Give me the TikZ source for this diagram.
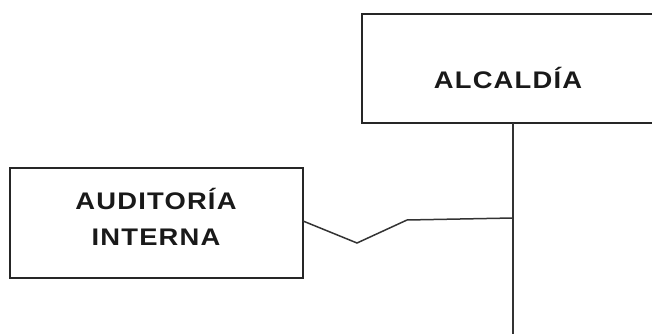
\documentclass[tikz,border=0pt]{standalone}
\usepackage{fontspec}
\setmainfont{Liberation Sans}[FakeStretch=1.14,LetterSpace=5]
\begin{document}
\begin{tikzpicture}[x=1pt,y=-1pt,
  unitbox/.style={draw=black!85,line width=1.6pt},
  wire/.style={draw=black!80,line width=1.5pt},
  label/.style={font=\fontsize{24}{36}\selectfont\bfseries,text=black!90,align=center,inner sep=0pt}]
  \useasboundingbox (0,0) rectangle (652,334);
  % organisational units
  \path[unitbox] (362,14) rectangle (670,123);
  \node[label] (alc) at (508,78) {ALCALDÍA};
  \path[unitbox] (10,168) rectangle (303,278);
  \node[label] (aud) at (156,217) {AUDITORÍA\\INTERNA};
  % anchor points of the connectors
  \coordinate (alcB) at (513,123);
  \coordinate (audR) at (303,221);
  \coordinate (join) at (513,218);
  \coordinate (down) at (513,334);
  % main line down from the mayor's office
  \draw[wire] (alcB) -- (join) -- (down);
  % staff link to internal audit
  \draw[wire] (audR) -- (357,243) -- (407,220) -- (join);
\end{tikzpicture}
\end{document}
